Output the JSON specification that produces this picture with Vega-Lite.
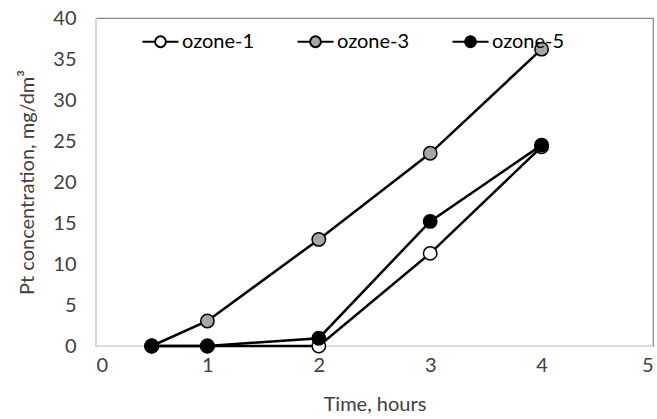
{
  "$schema": "https://vega.github.io/schema/vega-lite/v6.json",
  "width": 557,
  "height": 328,
  "autosize": {"type": "none"},
  "padding": {"left": 96, "top": 18, "right": 4, "bottom": 73},
  "background": "white",
  "config": {
    "font": "Lato",
    "view": {"stroke": "#888888", "strokeWidth": 1.2},
    "axis": {"grid": false, "ticks": false, "domainColor": "#d9d9d9", "labelFont": "Lato", "labelFontSize": 20, "labelColor": "#404040", "titleFont": "Lato", "titleFontSize": 20, "titleFontWeight": "normal", "titleColor": "#404040"}
  },
  "data": {
    "values": [
      {"series": "ozone-1", "time": 0.5, "pt": 0},
      {"series": "ozone-1", "time": 1, "pt": 0},
      {"series": "ozone-1", "time": 2, "pt": 0},
      {"series": "ozone-1", "time": 3, "pt": 11.3},
      {"series": "ozone-1", "time": 4, "pt": 24.3},
      {"series": "ozone-3", "time": 0.5, "pt": 0},
      {"series": "ozone-3", "time": 1, "pt": 3.05},
      {"series": "ozone-3", "time": 2, "pt": 13.0},
      {"series": "ozone-3", "time": 3, "pt": 23.5},
      {"series": "ozone-3", "time": 4, "pt": 36.2},
      {"series": "ozone-5", "time": 0.5, "pt": 0},
      {"series": "ozone-5", "time": 1, "pt": 0},
      {"series": "ozone-5", "time": 2, "pt": 0.95},
      {"series": "ozone-5", "time": 3, "pt": 15.2},
      {"series": "ozone-5", "time": 4, "pt": 24.5}
    ]
  },
  "encoding": {
    "x": {"field": "time", "type": "quantitative", "scale": {"domain": [0, 5], "nice": false}, "axis": {"values": [0, 1, 2, 3, 4, 5], "title": "Time, hours", "labelPadding": 9, "titlePadding": 19}},
    "y": {"field": "pt", "type": "quantitative", "scale": {"domain": [0, 40], "nice": false}, "axis": {"values": [0, 5, 10, 15, 20, 25, 30, 35, 40], "title": "Pt concentration, mg/dm³", "labelPadding": 20, "titlePadding": 15}}
  },
  "layer": [
    {
      "mark": {"type": "line", "color": "black", "strokeWidth": 2.5},
      "encoding": {"detail": {"field": "series"}}
    },
    {
      "mark": {"type": "point", "shape": "circle", "filled": true, "size": 180, "stroke": "black", "strokeWidth": 1.5, "opacity": 1},
      "encoding": {
        "fill": {"field": "series", "type": "nominal", "scale": {"domain": ["ozone-1", "ozone-3", "ozone-5"], "range": ["white", "#a6a6a6", "black"]},
          "legend": {"title": null, "orient": "none", "legendX": 45, "legendY": 4, "direction": "horizontal", "symbolType": "M-1,0H-0.3A0.3,0.3,0,1,1,0.3,0A0.3,0.3,0,1,1,-0.3,0M0.3,0H1", "symbolSize": 1300, "symbolStrokeColor": "black", "symbolStrokeWidth": 2, "symbolOpacity": 1, "labelFont": "Lato", "labelFontSize": 20, "labelColor": "black", "labelOffset": 2, "columnPadding": 38}}
      }
    }
  ]
}
